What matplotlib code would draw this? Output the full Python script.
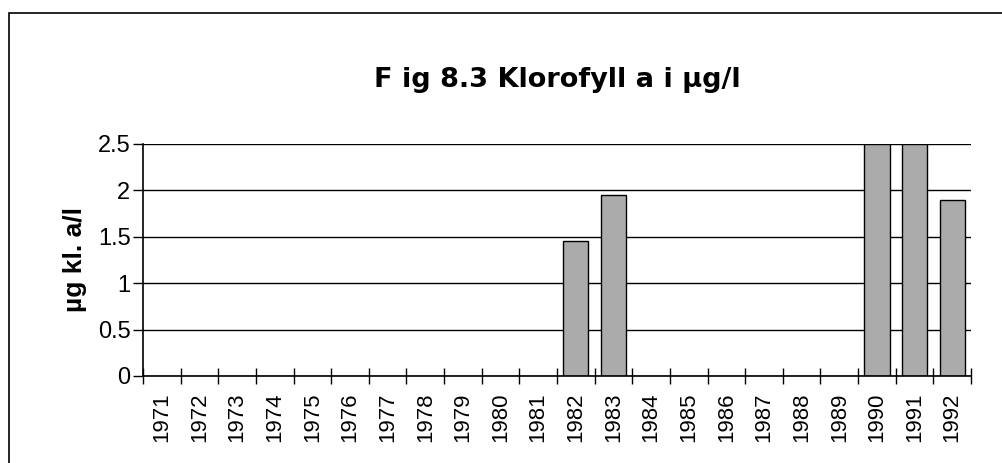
# coding:utf-8

import numpy as np
import matplotlib.pyplot as plt
from matplotlib.patches import Rectangle

years = [str(y) for y in range(1971, 1993)]
chl = [0, 0, 0, 0, 0, 0, 0, 0, 0, 0, 0, 1.45, 1.95, 0, 0, 0, 0, 0, 0, 2.5, 2.5, 1.9]
y_ticks = [0, 0.5, 1, 1.5, 2, 2.5]
y_labels = ["0", "0.5", "1", "1.5", "2", "2.5"]


def create_bar_graph():
    fig = plt.figure(figsize=(10.02, 4.63), dpi=100)
    plt.rcParams['font.family'] = ['Liberation Sans', 'DejaVu Sans']

    # outer frame of the chart (cut off on right and bottom like the scan)
    fig.patches.append(Rectangle((9 / 1002, -0.2), 1.2, 1.2 - 13 / 463,
                                 transform=fig.transFigure, fill=False,
                                 edgecolor="black", linewidth=1.2))

    ax = fig.add_axes([143 / 1002, 1 - 376 / 463, 828 / 1002, 232 / 463])
    x = np.arange(len(years))
    vals = np.array(chl)
    mask = vals > 0
    ax.bar(x[mask], vals[mask], width=0.67, color="#ababab",
           edgecolor="black", linewidth=1.0, zorder=2)

    ax.set_xlim(-0.5, len(years) - 0.5)
    ax.set_ylim(0, 2.5)
    ax.set_yticks(y_ticks)
    ax.set_yticklabels(y_labels, fontsize=17)
    ax.yaxis.grid(True, color="black", linewidth=1.0)
    ax.set_axisbelow(True)
    ax.tick_params(axis="y", direction="out", length=7, width=1, pad=2)

    # ticks between categories, labels at the centres
    ax.set_xticks(np.arange(len(years) + 1) - 0.5)
    ax.set_xticklabels([""] * (len(years) + 1))
    ax.tick_params(axis="x", which="major", direction="inout", length=12, width=1)
    ax.set_xticks(x, minor=True)
    ax.set_xticklabels(years, minor=True, rotation=90, fontsize=16)
    ax.tick_params(axis="x", which="minor", length=0, pad=12)

    for s in ["top", "right"]:
        ax.spines[s].set_visible(False)
    ax.spines["left"].set_linewidth(1.2)
    ax.spines["bottom"].set_linewidth(1.2)

    ax.set_ylabel("µg kl. a/l", fontsize=19, fontweight="bold", labelpad=8)
    fig.text(0.556, 1 - 80 / 463, "F ig 8.3 Klorofyll a i µg/l", ha="center",
             va="center", fontsize=19.5, fontweight="bold", family="DejaVu Sans")

    fig.savefig("out.png", dpi=100)


if __name__ == '__main__':
    create_bar_graph()
